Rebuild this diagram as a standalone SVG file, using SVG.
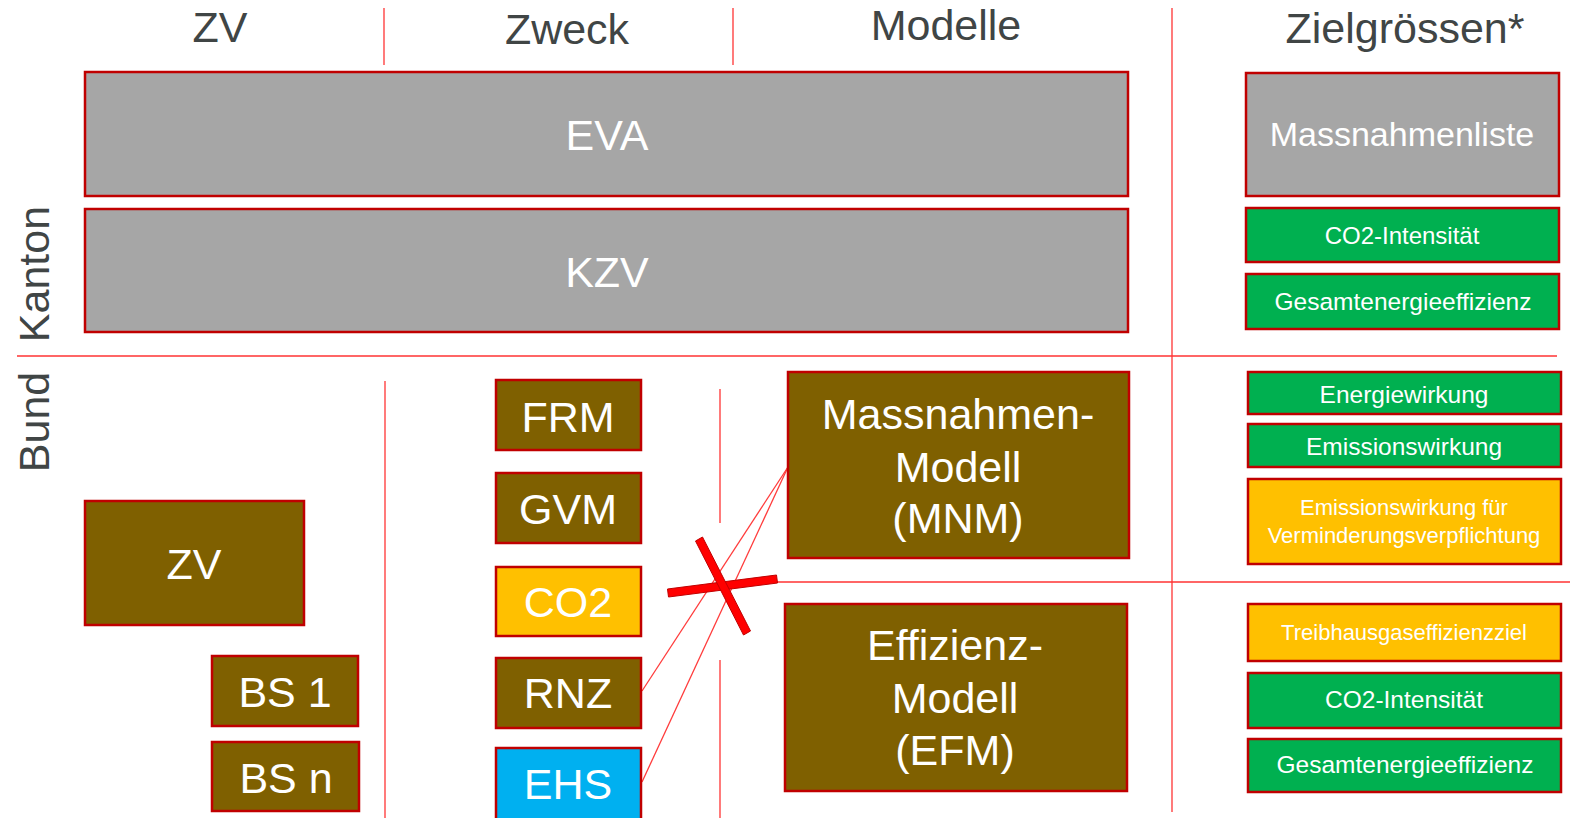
<svg xmlns="http://www.w3.org/2000/svg" width="1570" height="818" viewBox="0 0 1570 818">
<style>
text{font-family:"Liberation Sans",Arial,sans-serif;text-anchor:middle}
.hdr{fill:#404545;font-size:43px}
.box rect{stroke:#c00000;stroke-width:2.5}
.gray{fill:#a6a6a6}
.olive{fill:#7f6000}
.green{fill:#00b050}
.orange{fill:#ffc000}
.blue{fill:#00b0f0}
.w{fill:#ffffff}
.sep{stroke:#ff3333;stroke-width:1.3;fill:none}
.conn{stroke:#ff3b3b;stroke-width:1.3;fill:none}
</style>
<rect width="1570" height="818" fill="#ffffff"/>
<g id="grid">
<line class="sep" x1="384" y1="8" x2="384" y2="65"/>
<line class="sep" x1="733" y1="8" x2="733" y2="65"/>
<line class="sep" x1="1172" y1="8" x2="1172" y2="812"/>
<line class="sep" x1="17" y1="356" x2="1557" y2="356"/>
<line class="sep" x1="385" y1="381" x2="385" y2="818"/>
<line class="sep" x1="720" y1="389" x2="720" y2="523"/>
<line class="sep" x1="720" y1="660" x2="720" y2="818"/>
<line class="sep" x1="777" y1="582" x2="1570" y2="582"/>
</g>
<g id="headers">
<text class="hdr" x="220" y="42">ZV</text>
<text class="hdr" x="567" y="44">Zweck</text>
<text class="hdr" x="946" y="40">Modelle</text>
<text class="hdr" x="1405" y="43">Zielgrössen*</text>
<text class="hdr" transform="translate(49,274) rotate(-90)">Kanton</text>
<text class="hdr" transform="translate(49,422) rotate(-90)">Bund</text>
</g>
<g id="connectors">
<line class="conn" x1="642" y1="691" x2="788" y2="467"/>
<line class="conn" x1="642" y1="782" x2="788" y2="467"/>
<g id="cross" fill="#ff0000" stroke="#c00000" stroke-width="1">
<polygon points="667.5,589 776.5,575 777.5,583 668.5,597"/>
<polygon points="695.5,541 702.5,537 750.5,631 743.5,635"/>
</g>
</g>
<g id="EVA" class="box"><rect class="gray" x="85" y="72" width="1043" height="124"/><text class="w" x="607" y="150" font-size="43">EVA</text></g>
<g id="KZV" class="box"><rect class="gray" x="85" y="209" width="1043" height="123"/><text class="w" x="607" y="287" font-size="43">KZV</text></g>
<g id="Massnahmenliste" class="box"><rect class="gray" x="1246" y="73" width="313" height="123"/><text class="w" x="1402" y="146" font-size="34">Massnahmenliste</text></g>
<g id="CO2IntK" class="box"><rect class="green" x="1246" y="208" width="313" height="54"/><text class="w" x="1402" y="244" font-size="24">CO2-Intensität</text></g>
<g id="GesamtK" class="box"><rect class="green" x="1246" y="274" width="313" height="55"/><text class="w" x="1403" y="310" font-size="24.5">Gesamtenergieeffizienz</text></g>
<g id="ZV" class="box"><rect class="olive" x="85" y="501" width="219" height="124"/><text class="w" x="194" y="579" font-size="43">ZV</text></g>
<g id="BS1" class="box"><rect class="olive" x="212" y="656" width="146" height="70"/><text class="w" x="285" y="707" font-size="43">BS 1</text></g>
<g id="BSn" class="box"><rect class="olive" x="212" y="742" width="147" height="69"/><text class="w" x="286" y="793" font-size="43">BS n</text></g>
<g id="FRM" class="box"><rect class="olive" x="496" y="380" width="145" height="70"/><text class="w" x="568" y="432" font-size="43">FRM</text></g>
<g id="GVM" class="box"><rect class="olive" x="496" y="473" width="145" height="70"/><text class="w" x="568" y="524" font-size="43">GVM</text></g>
<g id="CO2" class="box"><rect class="orange" x="496" y="567" width="145" height="69"/><text class="w" x="568" y="617" font-size="43">CO2</text></g>
<g id="RNZ" class="box"><rect class="olive" x="496" y="658" width="145" height="70"/><text class="w" x="568" y="708" font-size="43">RNZ</text></g>
<g id="EHS" class="box"><rect class="blue" x="496" y="748" width="145" height="75"/><text class="w" x="568" y="799" font-size="43">EHS</text></g>
<g id="MNM" class="box"><rect class="olive" x="788" y="372" width="341" height="186"/>
<text class="w" x="958" y="429" font-size="43">Massnahmen-</text>
<text class="w" x="958" y="482" font-size="43">Modell</text>
<text class="w" x="958" y="533" font-size="43">(MNM)</text></g>
<g id="EFM" class="box"><rect class="olive" x="785" y="604" width="342" height="187"/>
<text class="w" x="955" y="660" font-size="43">Effizienz-</text>
<text class="w" x="955" y="713" font-size="43">Modell</text>
<text class="w" x="955" y="765" font-size="43">(EFM)</text></g>
<g id="Energiewirkung" class="box"><rect class="green" x="1248" y="372" width="313" height="42"/><text class="w" x="1404" y="403" font-size="24.5">Energiewirkung</text></g>
<g id="Emissionswirkung" class="box"><rect class="green" x="1248" y="424" width="313" height="43"/><text class="w" x="1404" y="455" font-size="24.5">Emissionswirkung</text></g>
<g id="EmissionswirkungVV" class="box"><rect class="orange" x="1248" y="479" width="313" height="85"/>
<text class="w" x="1404" y="515" font-size="22">Emissionswirkung für</text>
<text class="w" x="1404" y="543" font-size="22">Verminderungsverpflichtung</text></g>
<g id="Treibhaus" class="box"><rect class="orange" x="1248" y="604" width="313" height="57"/><text class="w" x="1404" y="640" font-size="22">Treibhausgaseffizienzziel</text></g>
<g id="CO2IntB" class="box"><rect class="green" x="1248" y="673" width="313" height="55"/><text class="w" x="1404" y="708" font-size="24.5">CO2-Intensität</text></g>
<g id="GesamtB" class="box"><rect class="green" x="1248" y="739" width="313" height="53"/><text class="w" x="1405" y="773" font-size="24.5">Gesamtenergieeffizienz</text></g>
</svg>
